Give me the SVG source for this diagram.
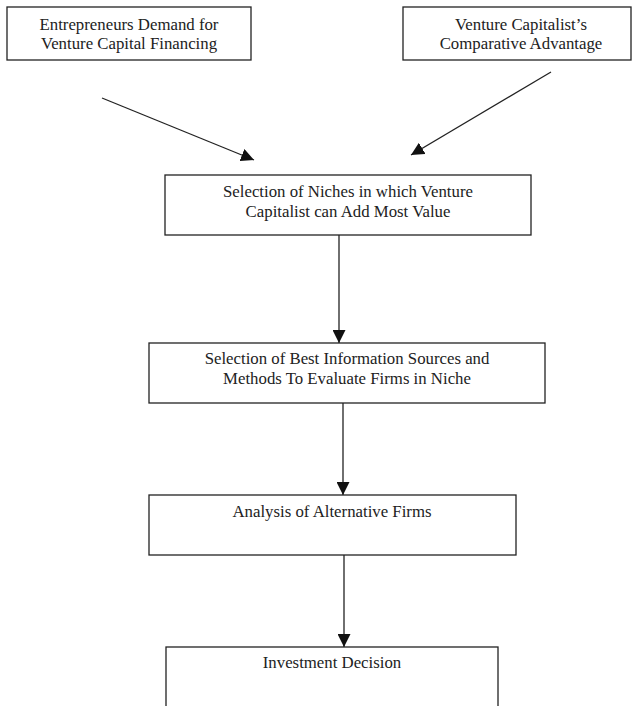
<svg xmlns="http://www.w3.org/2000/svg" width="638" height="706" viewBox="0 0 638 706">
<defs>
<style>
.box{fill:#fff;stroke:#222;stroke-width:1.3}
.t{font-family:"Liberation Serif","Times New Roman",serif;font-size:16.8px;fill:#222;text-anchor:middle}
.c{stroke:#222;stroke-width:1.3;fill:none}
</style>
<marker id="ah" viewBox="0 0 13 13" refX="13" refY="6.5" markerWidth="13" markerHeight="13" markerUnits="userSpaceOnUse" orient="auto">
<path d="M0,0 L13,6.5 L0,13 z" fill="#111"/>
</marker>
</defs>
<rect width="638" height="706" fill="#fff"/>
<g id="connectors">
<line class="c" x1="102" y1="98" x2="254" y2="160" marker-end="url(#ah)"/>
<line class="c" x1="551" y1="72" x2="411" y2="155" marker-end="url(#ah)"/>
<line class="c" x1="339" y1="235" x2="339" y2="343" marker-end="url(#ah)"/>
<line class="c" x1="343" y1="403" x2="343" y2="495" marker-end="url(#ah)"/>
<line class="c" x1="344" y1="555" x2="344" y2="647" marker-end="url(#ah)"/>
</g>
<g id="n1">
<rect class="box" x="7" y="7" width="244" height="53"/>
<text class="t" x="129" y="30">Entrepreneurs Demand for</text>
<text class="t" x="129" y="49">Venture Capital Financing</text>
</g>
<g id="n2">
<rect class="box" x="403" y="7" width="228" height="53"/>
<text class="t" x="521" y="30">Venture Capitalist’s</text>
<text class="t" x="521" y="49">Comparative Advantage</text>
</g>
<g id="n3">
<rect class="box" x="165" y="175" width="366" height="60"/>
<text class="t" x="348" y="197">Selection of Niches in which Venture</text>
<text class="t" x="348" y="217">Capitalist can Add Most Value</text>
</g>
<g id="n4">
<rect class="box" x="149" y="343" width="396" height="60"/>
<text class="t" x="347" y="364">Selection of Best Information Sources and</text>
<text class="t" x="347" y="384">Methods To Evaluate Firms in Niche</text>
</g>
<g id="n5">
<rect class="box" x="149" y="495" width="367" height="60"/>
<text class="t" x="332" y="517">Analysis of Alternative Firms</text>
</g>
<g id="n6">
<rect class="box" x="166" y="647" width="332" height="70"/>
<text class="t" x="332" y="668">Investment Decision</text>
</g>
</svg>
